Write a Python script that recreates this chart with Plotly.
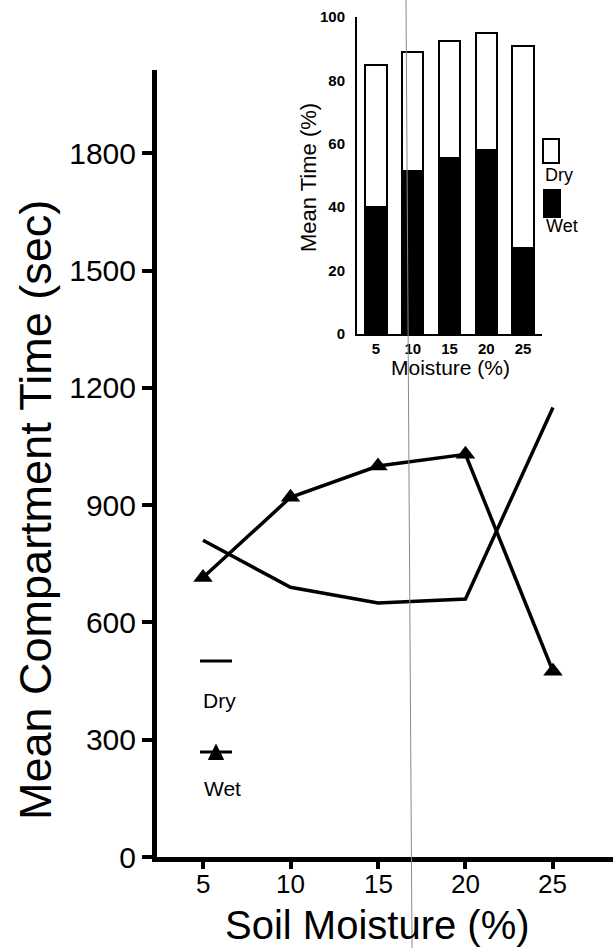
import plotly.graph_objects as go

# ---------------- data ----------------
moisture = [5, 10, 15, 20, 25]
dry_time = [810, 690, 650, 660, 1150]     # Mean compartment time (sec), dry side
wet_time = [715, 920, 1000, 1030, 475]    # Mean compartment time (sec), wet side

inset_moisture = [5, 10, 15, 20, 25]
inset_wet_pct = [40, 51.5, 55.5, 58, 27]
inset_dry_pct = [45, 37.5, 37, 37, 64]

main_xticks = [5, 10, 15, 20, 25]
main_yticks = [0, 300, 600, 900, 1200, 1500, 1800]
inset_yticks = [0, 20, 40, 60, 80, 100]

# ---------------- layout helpers ----------------
W, H = 613, 948
FONT = "Liberation Sans, Arial, sans-serif"


def px(x):
    return x / W


def py(y):
    return 1 - y / H


fig = go.Figure()

# main chart lines
fig.add_trace(go.Scatter(
    x=moisture, y=dry_time, mode="lines", name="Dry",
    line=dict(color="black", width=3.5), xaxis="x", yaxis="y",
))
fig.add_trace(go.Scatter(
    x=moisture, y=wet_time, mode="lines+markers", name="Wet",
    line=dict(color="black", width=3.5),
    marker=dict(symbol="triangle-up", size=17, color="black"),
    xaxis="x", yaxis="y",
))

# inset stacked bars
fig.add_trace(go.Bar(
    x=inset_moisture, y=inset_wet_pct, name="Wet", width=2.9,
    marker=dict(color="black", line=dict(color="black", width=2)),
    xaxis="x2", yaxis="y2",
))
fig.add_trace(go.Bar(
    x=inset_moisture, y=inset_dry_pct, name="Dry", width=2.9,
    marker=dict(color="white", line=dict(color="black", width=2)),
    xaxis="x2", yaxis="y2",
))

fig.update_layout(
    width=W, height=H,
    margin=dict(l=0, r=0, t=0, b=0, autoexpand=False),
    paper_bgcolor="white", plot_bgcolor="rgba(0,0,0,0)",
    showlegend=False, barmode="stack",
    font=dict(family=FONT, color="black"),
    xaxis=dict(
        domain=[px(157), 1.0], range=[2.37, 28.43], anchor="y", automargin=False,
        tickvals=main_xticks, showticklabels=False,
        ticks="outside", ticklen=7, tickwidth=4, tickcolor="black",
        showline=True, linewidth=5, linecolor="black",
        showgrid=False, zeroline=False,
    ),
    yaxis=dict(
        domain=[py(857), py(70)], range=[0, 2013], anchor="x", automargin=False,
        tickvals=main_yticks, ticks="outside", ticklen=10, tickwidth=4, tickcolor="black",
        showline=True, linewidth=5, linecolor="black",
        showgrid=False, zeroline=False,
        tickfont=dict(family=FONT, size=30, color="black"),
    ),
    xaxis2=dict(
        domain=[px(357), px(542)], range=[2.415, 27.585], anchor="y2", automargin=False,
        tickvals=inset_moisture, ticks="",
        showline=True, linewidth=2, linecolor="black",
        showgrid=False, zeroline=False,
        tickfont=dict(family=FONT, size=15, color="black", weight="bold"),
    ),
    yaxis2=dict(
        domain=[py(334), py(17)], range=[0, 100], anchor="x2", automargin=False,
        tickvals=inset_yticks, ticks="", ticklabelstandoff=7,
        showline=True, linewidth=2, linecolor="black",
        showgrid=False, zeroline=False,
        tickfont=dict(family=FONT, size=15, color="black", weight="bold"),
    ),
)

annotations = [
    # main axis titles
    dict(text="Soil Moisture (%)", x=px(378), y=py(925), xref="paper", yref="paper",
         xanchor="center", yanchor="middle", showarrow=False,
         font=dict(family=FONT, size=40, color="black")),
    dict(text="Mean Compartment Time (sec)", x=px(35), y=py(510), xref="paper", yref="paper",
         xanchor="center", yanchor="middle", textangle=-90, showarrow=False,
         font=dict(family=FONT, size=45, color="black")),
    # main legend labels
    dict(text="Dry", x=px(219), y=py(700), xref="paper", yref="paper",
         xanchor="center", yanchor="middle", showarrow=False,
         font=dict(family=FONT, size=21, color="black")),
    dict(text="Wet", x=px(222), y=py(788), xref="paper", yref="paper",
         xanchor="center", yanchor="middle", showarrow=False,
         font=dict(family=FONT, size=21, color="black")),
    # inset axis titles
    dict(text="Mean Time (%)", x=px(308), y=py(178), xref="paper", yref="paper",
         xanchor="center", yanchor="middle", textangle=-90, showarrow=False,
         font=dict(family=FONT, size=22, color="black")),
    dict(text="Moisture (%)", x=px(450), y=py(367), xref="paper", yref="paper",
         xanchor="center", yanchor="middle", showarrow=False,
         font=dict(family=FONT, size=21, color="black")),
    # inset legend labels
    dict(text="Dry", x=px(559), y=py(175), xref="paper", yref="paper",
         xanchor="center", yanchor="middle", showarrow=False,
         font=dict(family=FONT, size=18, color="black")),
    dict(text="Wet", x=px(562), y=py(226), xref="paper", yref="paper",
         xanchor="center", yanchor="middle", showarrow=False,
         font=dict(family=FONT, size=18, color="black")),
]
# main x tick labels placed on the x axis scale, tucked just below the ticks
for v in main_xticks:
    annotations.append(dict(
        text=str(v), x=v, xref="x", y=py(884), yref="paper",
        xanchor="center", yanchor="middle", showarrow=False,
        font=dict(family=FONT, size=26, color="black"),
    ))
fig.update_layout(annotations=annotations)

tri_cx, tri_cy, tri_h = 216, 752, 15
shapes = [
    # main legend keys
    dict(type="line", xref="paper", yref="paper",
         x0=px(200), x1=px(232), y0=py(661), y1=py(661),
         line=dict(color="black", width=3)),
    dict(type="line", xref="paper", yref="paper",
         x0=px(200), x1=px(232), y0=py(752), y1=py(752),
         line=dict(color="black", width=3)),
    dict(type="path", xref="paper", yref="paper",
         path=(f"M {px(tri_cx - tri_h/2)} {py(tri_cy + tri_h/2)} "
               f"L {px(tri_cx + tri_h/2)} {py(tri_cy + tri_h/2)} "
               f"L {px(tri_cx)} {py(tri_cy - tri_h/2)} Z"),
         fillcolor="black", line=dict(color="black", width=1)),
    # inset legend keys
    dict(type="rect", xref="paper", yref="paper",
         x0=px(543), x1=px(559), y0=py(163), y1=py(139),
         fillcolor="white", line=dict(color="black", width=2)),
    dict(type="rect", xref="paper", yref="paper",
         x0=px(544), x1=px(560), y0=py(217), y1=py(190),
         fillcolor="black", line=dict(color="black", width=2)),
    # faint scan fold line present in the reference
    dict(type="line", xref="paper", yref="paper",
         x0=px(406), x1=px(412), y0=1, y1=0,
         line=dict(color="#8a8a8a", width=1), layer="above"),
]
fig.update_layout(shapes=shapes)

# remove the default page margin so the 613x948 figure fills the window exactly
fig.write_html(
    "out.html",
    config={"displayModeBar": False},
    post_script="document.body.style.margin='0px';document.body.style.overflow='hidden';",
)
